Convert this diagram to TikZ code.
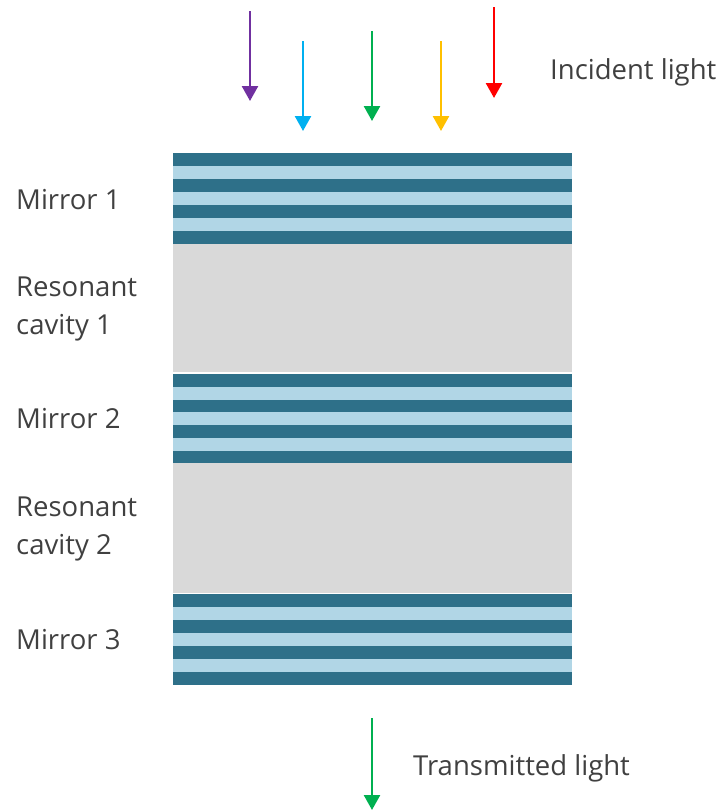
\documentclass[tikz,border=0pt]{standalone}
\usepackage{fontspec}
\setmainfont{Open Sans}
\usetikzlibrary{arrows.meta,positioning,calc}
\definecolor{mirrordark}{HTML}{2E7089}
\definecolor{mirrorlight}{HTML}{B1D6E6}
\definecolor{cavitygray}{HTML}{D9D9D9}
\definecolor{labelgray}{HTML}{404040}
\definecolor{rayviolet}{HTML}{7030A0}
\definecolor{rayblue}{HTML}{00B0F0}
\definecolor{raygreen}{HTML}{00B050}
\definecolor{rayyellow}{HTML}{FFC000}
\definecolor{rayred}{HTML}{FF0000}
\tikzset{
  mirror/.style={rectangle, draw=none, fill=mirrordark, minimum width=399pt,
    minimum height=91pt, inner sep=0pt, anchor=north west},
  cavity/.style={rectangle, draw=none, fill=cavitygray, minimum width=399pt,
    minimum height=128pt, inner sep=0pt, anchor=north west},
  layerlabel/.style={anchor=west, align=left, inner sep=0pt, text=labelgray,
    font=\fontsize{27.5}{38}\selectfont},
  lightarrow/.style={-{Triangle[length=15pt,width=16pt]}, line width=2.5pt}
}

\begin{document}
\begin{tikzpicture}[x=1pt,y=-1pt]
\useasboundingbox (0,0) rectangle (722,811);
\node[mirror] (mirror1) at (173,153) {};
\node[cavity] (cavity1) at (173,244) {};
\node[mirror, minimum height=89pt] (mirror2) at (173,374) {};
\node[cavity, minimum height=130pt] (cavity2) at (173,463) {};
\node[mirror] (mirror3) at (173,594) {};
\foreach \m in {mirror1,mirror2,mirror3}
  \foreach \k in {1,3,5}
    \fill[mirrorlight] ($(\m.north west)!{\k/7}!(\m.south west)$)
      rectangle ($(\m.north east)!{(\k+1)/7}!(\m.south east)$);
\node[layerlabel] (lblmirror1) at (16,200) {Mirror 1};
\node[layerlabel] (lblcavity1) at (16,309) {Resonant\\cavity 1};
\node[layerlabel] (lblmirror2) at (16,419) {Mirror 2};
\node[layerlabel] (lblcavity2) at (16,529) {Resonant\\cavity 2};
\node[layerlabel] (lblmirror3) at (16,640) {Mirror 3};
\node[layerlabel] (incident) at (550,72) {Incident light};
\node[layerlabel] (transmitted) at (413,768) {Transmitted light};
\coordinate (violettail) at (250,11);
\coordinate (violethead) at (250,101);
\coordinate (bluetail) at (303,41);
\coordinate (bluehead) at (303,131);
\coordinate (greentail) at (372,31);
\coordinate (greenhead) at (372,121);
\coordinate (yellowtail) at (441,41);
\coordinate (yellowhead) at (441,131);
\coordinate (redtail) at (494,7);
\coordinate (redhead) at (494,98);
\coordinate (outtail) at (372,718);
\coordinate (outhead) at (372,810);
\draw[lightarrow, rayviolet] (violettail) -- (violethead);
\draw[lightarrow, rayblue] (bluetail) -- (bluehead);
\draw[lightarrow, raygreen] (greentail) -- (greenhead);
\draw[lightarrow, rayyellow] (yellowtail) -- (yellowhead);
\draw[lightarrow, rayred] (redtail) -- (redhead);
\draw[lightarrow, raygreen] (outtail) -- (outhead);
\end{tikzpicture}
\end{document}
